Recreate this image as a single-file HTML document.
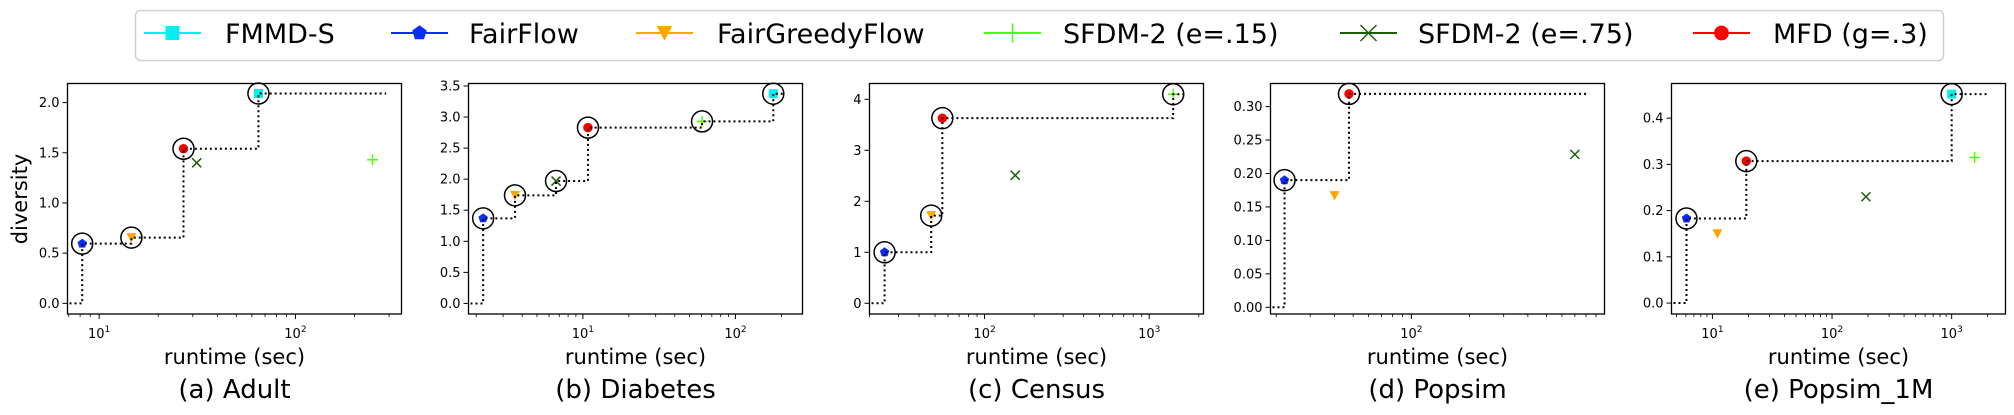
<!DOCTYPE html>
<html><head><meta charset="utf-8"><style>
html,body{margin:0;padding:0;background:#fff;}
svg{display:block;font-family:"DejaVu Sans","Liberation Sans",sans-serif;}
</style></head><body>
<svg id="chart" width="2014" height="415" viewBox="0 0 2014 415" xmlns="http://www.w3.org/2000/svg">
<g id="legend">
  <rect x="135.5" y="10.5" width="1808" height="50" rx="5" fill="#fff" stroke="#d0d0d0" stroke-width="1.5"/>
</g>
<g id="panels"></g>
</svg>
<script>
const NS="http://www.w3.org/2000/svg";
// ---- data (runtime in sec, diversity) per dataset: Adult, Diabetes, Census, Popsim, Popsim_1M
const datasets=["(a) Adult","(b) Diabetes","(c) Census","(d) Popsim","(e) Popsim_1M"];
const fmmdRuntime=[64.8,177,null,null,1000];
const fmmdDiversity=[2.09,3.376,null,null,0.452];
const fairflowRuntime=[8.2,2.22,24.7,22.1,6.07];
const fairflowDiversity=[0.595,1.37,1.0,0.19,0.183];
const fgfRuntime=[14.6,3.59,47.4,40.1,11];
const fgfDiversity=[0.655,1.74,1.72,0.167,0.15];
const sfdm15Runtime=[247,60.4,1399,null,1555];
const sfdm15Diversity=[1.43,2.93,4.1,null,0.315];
const sfdm75Runtime=[31.4,6.67,153.5,700,192];
const sfdm75Diversity=[1.40,1.97,2.51,0.2286,0.23];
const mfdRuntime=[26.9,10.8,55.4,47.6,19.2];
const mfdDiversity=[1.54,2.83,3.63,0.319,0.307];
const frontierEnd=[290,208,1637,830,1957];
const xMin=[6.9,1.78,20,18.7,4.55];
const xMax=[347,275,2137,996,2818];
const yMin=[-0.106,-0.17,-0.21,-0.010,-0.0237];
const yMax=[2.19,3.54,4.31,0.3345,0.475];
const yTickStep=[0.5,0.5,1,0.05,0.1];
const yTickCount=[5,8,5,7,5];
const yTickDecimals=[1,1,0,2,1];

const seriesNames=["FMMD-S","FairFlow","FairGreedyFlow","SFDM-2 (e=.15)","SFDM-2 (e=.75)","MFD (g=.3)"];
const seriesKeys=["fmmd","fairflow","fgf","sfdm15","sfdm75","mfd"];
const seriesRt=[fmmdRuntime,fairflowRuntime,fgfRuntime,sfdm15Runtime,sfdm75Runtime,mfdRuntime];
const seriesDiv=[fmmdDiversity,fairflowDiversity,fgfDiversity,sfdm15Diversity,sfdm75Diversity,mfdDiversity];
const colors=["#00f0f0","#0a2cff","#ffa500","#4cff00","#1f5c0a","#ff0000"];

const lefts=[67.5,468.5,869.5,1270.5,1671.5], W=334, TOP=83.5, BOT=314;

function el(tag,attrs,parent){const e=document.createElementNS(NS,tag);for(const k in attrs)e.setAttribute(k,attrs[k]);if(parent)parent.appendChild(e);return e;}

function marker(kind,cx,cy,color,s,parent){
  let m;
  if(kind==="fmmd"){m=el("rect",{x:cx-s,y:cy-s,width:2*s,height:2*s,fill:color},parent);}
  else if(kind==="fairflow"){let p=[];for(let i=0;i<5;i++){const a=-Math.PI/2+i*2*Math.PI/5;p.push((cx+s*1.1*Math.cos(a)).toFixed(1)+","+(cy+s*1.1*Math.sin(a)).toFixed(1));}m=el("polygon",{points:p.join(" "),fill:color},parent);}
  else if(kind==="fgf"){m=el("polygon",{points:`${cx-s*1.1},${cy-s} ${cx+s*1.1},${cy-s} ${cx},${cy+s*1.1}`,fill:color},parent);}
  else if(kind==="sfdm15"){m=el("path",{d:`M${cx-s*1.2} ${cy}H${cx+s*1.2}M${cx} ${cy-s*1.2}V${cy+s*1.2}`,stroke:color,"stroke-width":1.5,fill:"none"},parent);}
  else if(kind==="sfdm75"){m=el("path",{d:`M${cx-s} ${cy-s}L${cx+s} ${cy+s}M${cx+s} ${cy-s}L${cx-s} ${cy+s}`,stroke:color,"stroke-width":1.5,fill:"none"},parent);}
  else {m=el("circle",{cx:cx,cy:cy,r:s*1.05,fill:color},parent);}
  return m;
}

// legend
const legend=document.getElementById("legend");
const handleX=[144,391,636,984,1340,1693];
const textX=[225,469,717,1063,1418,1773];
seriesNames.forEach((n,i)=>{
  const g=el("g",{},legend);
  
  
  el("line",{x1:handleX[i],x2:handleX[i]+57,y1:33,y2:33,stroke:colors[i],"stroke-width":2},g);
  marker(seriesKeys[i],handleX[i]+28.5,33,colors[i],i===3||i===4?8:7,g);
  const t=el("text",{x:textX[i],y:43,"font-size":27,fill:"#000"},g);
  t.textContent=n;
});

const panels=document.getElementById("panels");
for(let p=0;p<5;p++){
  const L=lefts[p],R=L+W;
  const lx0=Math.log10(xMin[p]),lx1=Math.log10(xMax[p]);
  const X=v=>L+(Math.log10(v)-lx0)/(lx1-lx0)*W;
  const Y=v=>BOT-(v-yMin[p])/(yMax[p]-yMin[p])*(BOT-TOP);
  const g=el("g",{},panels);
  
  
  const pts=[];
  for(let s=0;s<6;s++){const r=seriesRt[s][p],d=seriesDiv[s][p];if(r!=null)pts.push({s,r,d});}
  const front=pts.filter(a=>!pts.some(b=>b!==a&&b.r<=a.r&&b.d>a.d)).sort((a,b)=>a.r-b.r);
  // points
  pts.forEach(o=>{
    const cx=X(o.r),cy=Y(o.d);
    const m=marker(seriesKeys[o.s],cx,cy,colors[o.s],4.5,g);
    
    
  });
  // frontier line on top
  let dpath=`M${X(xMin[p])+2} ${Y(0)}`;
  front.forEach(f=>{dpath+=`H${X(f.r)}V${Y(f.d)}`;});
  dpath+=`H${X(frontierEnd[p])}`;
  const fl=el("path",{d:dpath,fill:"none",stroke:"#000","stroke-width":2,"stroke-dasharray":"2,3"},g);
  
  
  front.forEach(f=>{
    const c=el("circle",{cx:X(f.r),cy:Y(f.d),r:10.5,fill:"none",stroke:"#000","stroke-width":1.5},g);
    
    
  });
  const fr=el("rect",{x:L,y:TOP,width:W,height:BOT-TOP,fill:"none",stroke:"#000","stroke-width":1.3},g);
  
  
  for(let k=0;k<yTickCount[p];k++){
    const v=k*yTickStep[p],y=Y(v);
    el("line",{x1:L-5,x2:L,y1:y,y2:y,stroke:"#000","stroke-width":1},g);
    const t=el("text",{x:L-8,y:y+4.5,"font-size":13,"text-anchor":"end"},g);
    
    
    t.textContent=v.toFixed(yTickDecimals[p]);
  }
  for(let e=Math.floor(lx0);e<=Math.ceil(lx1);e++){
    for(let m=1;m<=9;m++){
      const v=m*Math.pow(10,e);
      if(v<xMin[p]||v>xMax[p])continue;
      const x=X(v);
      el("line",{x1:x,x2:x,y1:BOT,y2:BOT+(m===1?5:3),stroke:"#000","stroke-width":m===1?1:0.8},g);
      if(m===1){
        const t=el("text",{x:x,y:338,"font-size":13,"text-anchor":"middle"},g);
        
        
        t.textContent="10";
        const sp=el("tspan",{dy:-6,"font-size":9},t);sp.textContent=String(e);
      }
    }
  }
  const xl=el("text",{x:L+W/2,y:364,"font-size":21,"text-anchor":"middle"},g);
  
  
  xl.textContent="runtime (sec)";
  const ti=el("text",{x:L+W/2,y:398,"font-size":26,"text-anchor":"middle"},g);
  
  
  ti.textContent=datasets[p];
}
const yl=el("text",{x:0,y:0,"font-size":21,"text-anchor":"middle",transform:"translate(27,199) rotate(-90)"},panels);


yl.textContent="diversity";
</script>
</body></html>
